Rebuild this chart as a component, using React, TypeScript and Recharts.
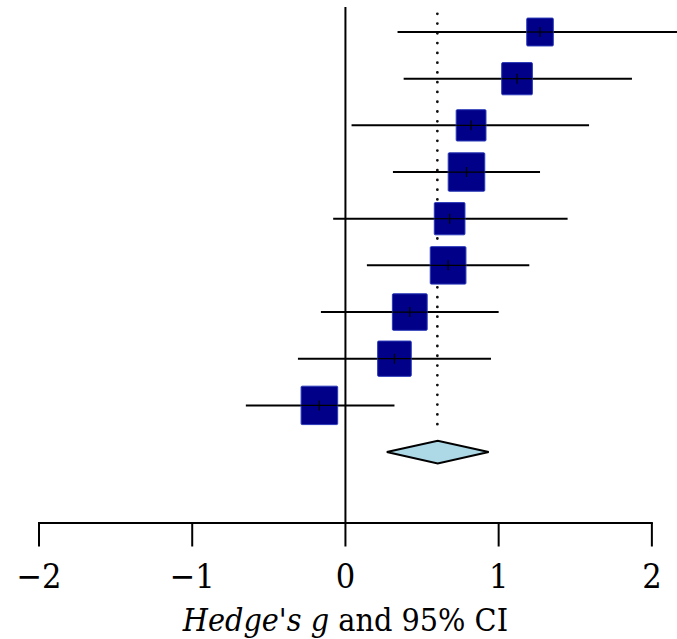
import {
  ComposedChart,
  Scatter,
  ErrorBar,
  XAxis,
  YAxis,
  ReferenceLine,
  ReferenceArea,
  Label,
} from "recharts"

// study rows, top to bottom
const rows = [1, 2, 3, 4, 5, 6, 7, 8, 9]
const estimates = [1.27, 1.12, 0.82, 0.79, 0.68, 0.67, 0.42, 0.32, -0.17]
const lowerCI = [0.34, 0.38, 0.04, 0.31, -0.08, 0.14, -0.16, -0.31, -0.65]
const upperCI = [2.25, 1.87, 1.59, 1.27, 1.45, 1.2, 1.0, 0.95, 0.32]
const weights = [9.0, 10.4, 10.1, 12.4, 10.4, 12.1, 11.8, 11.4, 12.4]

// pooled (random effects) estimate
const pooledRow = 10
const pooledEstimate = 0.6
const pooledLower = 0.27
const pooledUpper = 0.935

const xTicks = [-2, -1, 0, 1, 2]

const X_MIN = -2
const X_MAX = 2.164
const Y_MIN = 0.464
const Y_MAX = 11.52

const FONT = '"DejaVu Serif", serif'
const FONT_NARROW = '"DejaVu Serif Condensed", "DejaVu Serif", serif'

const studyData = estimates.map((est, i) => ({
  row: rows[i],
  est,
  ci: [est - lowerCI[i], upperCI[i] - est],
  weight: weights[i],
}))

function StudySquare(props: any) {
  const { cx, cy, payload } = props
  if (cx == null || cy == null) return null
  const w = payload.weight * 2.95
  const h = w * 1.05
  return (
    <g>
      <rect
        x={cx - w / 2}
        y={cy - h / 2}
        width={w}
        height={h}
        rx={1}
        fill="#000088"
        stroke="#2a3ab8"
        strokeWidth={1}
      />
      <line x1={cx - w / 2} x2={cx + w / 2} y1={cy} y2={cy} stroke="#000" strokeWidth={1.2} />
      <line x1={cx} x2={cx} y1={cy - 5} y2={cy + 5} stroke="#000" strokeWidth={1.2} />
    </g>
  )
}

function Diamond(props: any) {
  const { x, y, width, height } = props
  const midY = y + height / 2
  const midX = x + width / 2
  const pts = `${x},${midY} ${midX},${y} ${x + width},${midY} ${midX},${y + height}`
  return <polygon points={pts} fill="#add8e6" stroke="#000" strokeWidth={2} />
}

function XTick(props: any) {
  const { x, y, payload } = props
  return (
    <text x={x} y={y + 26} textAnchor="middle" fill="#000" fontFamily={FONT_NARROW} fontSize={34}>
      {fmt(payload.value)}
    </text>
  )
}

function AxisTitle(props: any) {
  const vb = props.viewBox
  if (!vb) return null
  const cx = vb.x + ((0 - X_MIN) / (X_MAX - X_MIN)) * vb.width
  return (
    <text x={cx} y={vb.y + 108} textAnchor="middle" fill="#000" fontFamily={FONT_NARROW} fontSize={32}>
      <tspan fontStyle="italic">Hedge's g</tspan>
      {" and 95% CI"}
    </text>
  )
}

const fmt = (v: number) => (v < 0 ? `\u2212${Math.abs(v)}` : String(v))

export default function App() {
  return (
    <div style={{ width: 677, height: 639, background: "#fff" }}>
      <style>{"body{margin:0}"}</style>
      <ComposedChart
        width={677}
        height={639}
        data={studyData}
        margin={{ top: 7, right: 0, bottom: 0, left: 39 }}
      >
        <XAxis
          type="number"
          dataKey="est"
          domain={[X_MIN, X_MAX]}
          allowDataOverflow
          ticks={xTicks}
          interval={0}
          height={116}
          axisLine={false}
          tickLine={{ stroke: "#000", strokeWidth: 2 }}
          tickSize={23.5}
          tickMargin={15}
          tick={XTick}
        >
          <Label content={AxisTitle} />
        </XAxis>
        <YAxis
          type="number"
          dataKey="row"
          domain={[Y_MIN, Y_MAX]}
          allowDataOverflow
          reversed
          hide
          width={0}
        />
        <ReferenceLine
          segment={[
            { x: X_MIN, y: Y_MAX },
            { x: 2, y: Y_MAX },
          ]}
          stroke="#000"
          strokeWidth={2}
          strokeLinecap="square"
          ifOverflow="visible"
        />
        <ReferenceLine x={0} stroke="#000" strokeWidth={2} />
        <ReferenceLine
          segment={[
            { x: pooledEstimate, y: 0.61 },
            { x: pooledEstimate, y: 9.59 },
          ]}
          stroke="#111"
          strokeWidth={2.8}
          strokeDasharray="0 9.77"
          strokeLinecap="round"
          ifOverflow="visible"
        />
        <ReferenceArea
          x1={pooledLower}
          x2={pooledUpper}
          y1={pooledRow - 0.242}
          y2={pooledRow + 0.242}
          shape={Diamond}
          ifOverflow="visible"
        />
        <Scatter data={studyData} shape={StudySquare} isAnimationActive={false}>
          <ErrorBar
            dataKey="ci"
            direction="x"
            width={0}
            stroke="#000"
            strokeWidth={2}
            isAnimationActive={false}
          />
        </Scatter>
      </ComposedChart>
    </div>
  )
}
